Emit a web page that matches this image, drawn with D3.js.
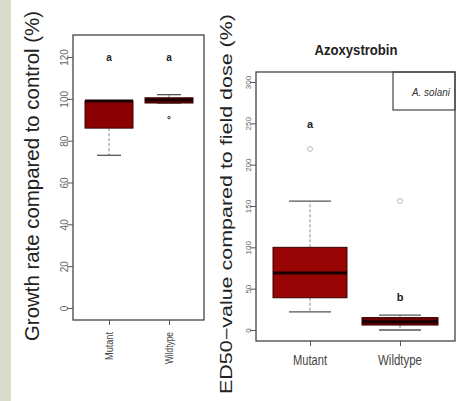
<!DOCTYPE html>
<html><head><meta charset="utf-8">
<script src="https://cdn.jsdelivr.net/npm/d3@7"></script>
<style>body{margin:0;background:#fff}svg{display:block}text{font-family:"Liberation Sans",Arial,sans-serif}</style>
</head><body><svg id="c" width="466" height="401"></svg>
<script>
const categories = ["Mutant", "Wildtype"];
// Panel A: growth rate compared to control (%)
const growthMin = [73, 98];
const growthQ1 = [86, 98];
const growthMedian = [99, 99.5];
const growthQ3 = [99, 100.5];
const growthMax = [99, 102];
const growthOutliers = [[], [91]];
const growthLetters = ["a", "a"];
const growthLetterY = [120, 120];
const growthTicks = [0, 20, 40, 60, 80, 100, 120];
// Panel B: Azoxystrobin ED50 compared to field dose (%)
const edMin = [22, 0];
const edQ1 = [39, 6];
const edMedian = [69, 10];
const edQ3 = [100, 15];
const edMax = [156, 18];
const edOutliers = [[219], [156]];
const edLetters = ["a", "b"];
const edLetterY = [249, 40];
const edTicks = [0, 50, 100, 150, 200, 250, 300];

const svg = d3.select("#c");
svg.append("rect").attr("x",0).attr("y",0).attr("width",11).attr("height",401).attr("fill","#d7dccb");

function panel(o){
  const g = svg.append("g");
  const y = d3.scaleLinear().domain(o.ydom).range(o.yrange);
  const x = d3.scalePoint().domain(categories).range(o.xpts);
  g.append("rect").attr("x",o.fx0).attr("y",o.fy0).attr("width",o.fx1-o.fx0).attr("height",o.fy1-o.fy0)
    .attr("fill","none").attr("stroke","#444").attr("stroke-width",1.3);
  const ya = g.append("g").attr("transform",`translate(${o.fx0},0)`)
    .call(d3.axisLeft(y).tickValues(o.ticks).tickSize(6).tickPadding(0).tickFormat(d3.format("d")));
  ya.select(".domain").remove();
  ya.selectAll(".tick line").attr("stroke","#555");
  ya.selectAll(".tick text").attr("fill","#666").attr("font-size",o.tickFs)
    .attr("transform",`translate(${-o.tickOff},0) rotate(-90)`).attr("text-anchor","middle").attr("dy","0.35em").attr("x",0);
  const xa = g.append("g").attr("transform",`translate(0,${o.fy1})`)
    .call(d3.axisBottom(x).tickSize(5).tickFormat(""));
  xa.select(".domain").remove();
  xa.selectAll(".tick line").attr("stroke","#555");
  categories.forEach((c,i)=>{
    const t = g.append("text").text(c).attr("fill","#444").attr("font-size",o.xFs);
    if(o.xRot){
      t.attr("transform",`translate(${x(c)+4},${o.fy1+12}) rotate(-90)`).attr("text-anchor","end")
       .attr("textLength",o.xLen[i]).attr("lengthAdjust","spacingAndGlyphs");
    } else {
      t.attr("x",x(c)).attr("y",o.fy1+24).attr("text-anchor","middle")
       .attr("textLength",o.xLen[i]).attr("lengthAdjust","spacingAndGlyphs");
    }
  });
  categories.forEach((c,i)=>{
    const cx = x(c), hw = o.bw[i]/2, cw = o.cw/2;
    if(o.max[i] > o.q3[i]){
      g.append("line").attr("x1",cx).attr("x2",cx).attr("y1",y(o.q3[i])).attr("y2",y(o.max[i]))
        .attr("stroke","#888").attr("stroke-dasharray","3,2");
    }
    if(o.min[i] < o.q1[i]){
      g.append("line").attr("x1",cx).attr("x2",cx).attr("y1",y(o.q1[i])).attr("y2",y(o.min[i]))
        .attr("stroke","#888").attr("stroke-dasharray","3,2");
    }
    [o.min[i], o.max[i]].forEach(v=>{
      g.append("line").attr("x1",cx-cw).attr("x2",cx+cw).attr("y1",y(v)).attr("y2",y(v))
        .attr("stroke","#555").attr("stroke-width",1.3);
    });
    g.append("rect").attr("x",cx-hw).attr("width",hw*2)
      .attr("y",y(o.q3[i])).attr("height",Math.max(3,y(o.q1[i])-y(o.q3[i])))
      .attr("fill",o.fill[i]).attr("stroke","#3a0000").attr("stroke-width",1);
    g.append("line").attr("x1",cx-hw).attr("x2",cx+hw).attr("y1",y(o.med[i])).attr("y2",y(o.med[i]))
      .attr("stroke","#1a0000").attr("stroke-width",3);
    o.out[i].forEach(v=>{
      g.append("circle").attr("cx",cx).attr("cy",y(v)).attr("r",o.outR)
        .attr("fill","none").attr("stroke",o.outC).attr("stroke-width",1);
    });
    g.append("text").text(o.letters[i]).attr("x",cx).attr("y",y(o.letterY[i])).attr("dy","0.35em")
      .attr("text-anchor","middle").attr("font-size",o.letFs).attr("font-weight","bold").attr("fill","#222");
  });
  g.append("text").text(o.ytitle).attr("transform",`translate(${o.ytx},${o.yty}) rotate(-90)`)
    .attr("text-anchor","middle").attr("font-size",o.ytFs).attr("fill","#222")
    .attr("textLength",o.ytLen).attr("lengthAdjust","spacingAndGlyphs");
  return {g,x,y};
}

panel({
  ydom:[0,120], yrange:[308,57], xpts:[109,169], fx0:73, fx1:204, fy0:35, fy1:320,
  ticks:growthTicks, tickFs:10, tickOff:9, xFs:10, xRot:true, xLen:[28,32],
  min:growthMin,q1:growthQ1,med:growthMedian,q3:growthQ3,max:growthMax,out:growthOutliers,
  bw:[48,48], cw:24, fill:["#8b0000","#6e0000"], outR:1.2, outC:"#333",
  letters:growthLetters, letterY:growthLetterY, letFs:10,
  ytitle:"Growth rate compared to control (%)", ytx:39, yty:176, ytFs:20, ytLen:330
});

panel({
  ydom:[0,300], yrange:[330,82], xpts:[310,400], fx0:256, fx1:455, fy0:72, fy1:341,
  ticks:edTicks, tickFs:8, tickOff:8, xFs:14, xRot:false, xLen:[34,44],
  min:edMin,q1:edQ1,med:edMedian,q3:edQ3,max:edMax,out:edOutliers,
  bw:[74,76], cw:42, fill:["#990505","#6a0000"], outR:2.5, outC:"#bbb",
  letters:edLetters, letterY:edLetterY, letFs:11,
  ytitle:"ED50\u2212value compared to field dose (%)", ytx:232, yty:204, ytFs:16, ytLen:380
});

svg.append("text").text("Azoxystrobin").attr("x",356).attr("y",55).attr("text-anchor","middle")
  .attr("font-size",15).attr("font-weight","bold").attr("fill","#222")
  .attr("textLength",83).attr("lengthAdjust","spacingAndGlyphs");
svg.append("rect").attr("x",393).attr("y",72).attr("width",62).attr("height",38)
  .attr("fill","none").attr("stroke","#444").attr("stroke-width",1.2);
svg.append("text").text("A. solani").attr("x",431).attr("y",96).attr("text-anchor","middle")
  .attr("font-size",11).attr("font-style","italic").attr("fill","#333")
  .attr("textLength",38).attr("lengthAdjust","spacingAndGlyphs");
</script></body></html>
